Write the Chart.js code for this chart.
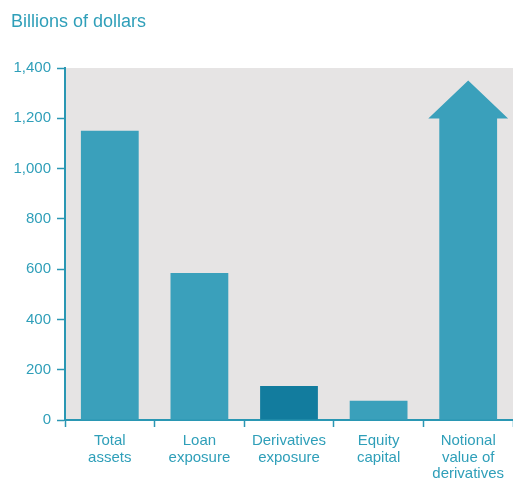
<!DOCTYPE html>
<html>
<head>
<meta charset="utf-8">
<script src="https://cdn.jsdelivr.net/npm/chart.js@4.4.0/dist/chart.umd.min.js"></script>
<style>
  html, body { margin: 0; padding: 0; background: #fff; }
  #wrap { width: 513px; height: 480px; }
</style>
</head>
<body>
<div id="wrap"><canvas id="mycanvas"></canvas></div>
<script>
var categories = [
  ["Total", "assets"],
  ["Loan", "exposure"],
  ["Derivatives", "exposure"],
  ["Equity", "capital"],
  ["Notional", "value of", "derivatives"]
];
// notional value runs off the scale, drawn as an arrow
var values = [1150, 585, 135, 77, 1350];
var yTicks = [0, 200, 400, 600, 800, 1000, 1200, 1400];
var unitTitle = "Billions of dollars";

var teal = "#2f9fb9";
var barColor = "#3aa0bb";
var darkColor = "#127c9e";
var axisColor = "#2a97b3";
var fontFamily = "'Liberation Sans', Arial, Helvetica, sans-serif";

// grey plot background and the unit caption above it
var plotBg = {
  id: "plotBg",
  beforeDraw: function(chart) {
    var a = chart.chartArea, ctx = chart.ctx;
    ctx.save();
    ctx.fillStyle = "#e6e4e4";
    ctx.fillRect(a.left, a.top, a.right - a.left, a.bottom - a.top);
    ctx.fillStyle = teal;
    ctx.font = "18px " + fontFamily;
    ctx.textBaseline = "middle";
    ctx.textAlign = "left";
    ctx.fillText(unitTitle, 11, 22);
    ctx.restore();
  }
};

// last bar gets an arrow head instead of a flat top
var arrowBar = {
  id: "arrowBar",
  afterDatasetsDraw: function(chart) {
    var bar = chart.getDatasetMeta(0).data[4];
    if (!bar) return;
    var ctx = chart.ctx;
    var headH = 38;
    var half = bar.width / 2;
    var wing = half + 11;
    ctx.save();
    ctx.fillStyle = barColor;
    ctx.beginPath();
    ctx.moveTo(bar.x - half, bar.base);
    ctx.lineTo(bar.x - half, bar.y + headH);
    ctx.lineTo(bar.x - wing, bar.y + headH);
    ctx.lineTo(bar.x, bar.y);
    ctx.lineTo(bar.x + wing, bar.y + headH);
    ctx.lineTo(bar.x + half, bar.y + headH);
    ctx.lineTo(bar.x + half, bar.base);
    ctx.closePath();
    ctx.fill();
    ctx.restore();
  }
};

var chartdata = {
  labels: categories,
  datasets: [{
    label: unitTitle,
    data: values,
    backgroundColor: [barColor, barColor, darkColor, barColor, "rgba(0,0,0,0)"],
    borderWidth: 0,
    barPercentage: 0.645,
    categoryPercentage: 1
  }]
};

var ctx = document.getElementById("mycanvas");

var BarGraph = new Chart(ctx, {
  type: "bar",
  data: chartdata,
  plugins: [plotBg, arrowBar],
  options: {
    responsive: true,
    maintainAspectRatio: false,
    animation: false,
    layout: { padding: { left: 0, right: 0, top: 68, bottom: 0 } },
    plugins: {
      legend: { display: false },
      tooltip: { enabled: false },
      title: { display: false }
    },
    scales: {
      x: {
        afterFit: function(scale) { scale.height = 60; },
        grid: {
          display: true,
          drawOnChartArea: false,
          drawTicks: true,
          tickLength: 7,
          tickColor: axisColor,
          tickWidth: 1.5,
          offset: true
        },
        border: { display: true, color: axisColor, width: 2 },
        ticks: {
          color: teal,
          font: { family: fontFamily, size: 15, lineHeight: 1.1 },
          padding: 6,
          maxRotation: 0,
          autoSkip: false
        }
      },
      y: {
        min: 0,
        max: 1400,
        afterFit: function(scale) { scale.width = 65; },
        afterBuildTicks: function(scale) {
          scale.ticks = yTicks.map(function(v) { return { value: v }; });
        },
        grid: {
          display: true,
          drawOnChartArea: false,
          drawTicks: true,
          tickLength: 8,
          tickColor: axisColor,
          tickWidth: 1.5
        },
        border: { display: true, color: axisColor, width: 2 },
        ticks: {
          color: teal,
          font: { family: fontFamily, size: 15 },
          padding: 6,
          callback: function(v) { return v.toLocaleString("en-US"); }
        }
      }
    }
  }
});
</script>
</body>
</html>
